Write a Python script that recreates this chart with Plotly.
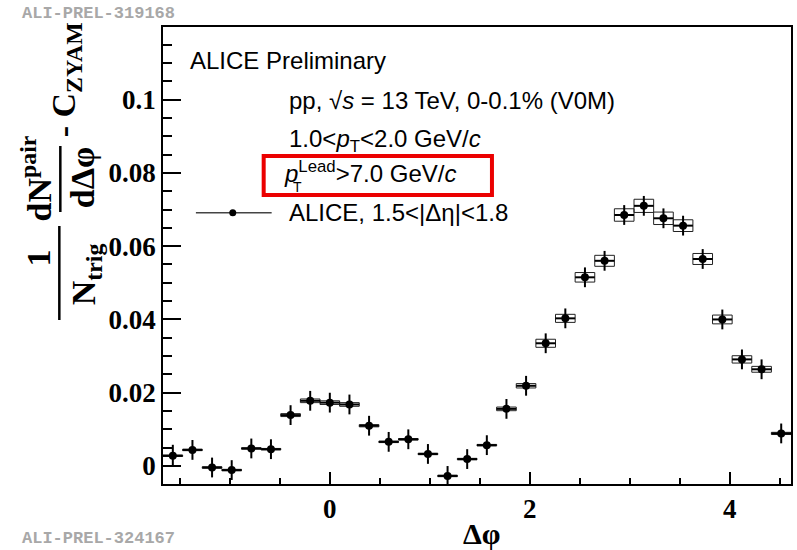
import plotly.graph_objects as go

# ---------------- data ----------------
dphi = [-1.5708, -1.3744, -1.1781, -0.9817, -0.7854, -0.5890, -0.3927, -0.1963,
        0.0, 0.1963, 0.3927, 0.5890, 0.7854, 0.9817, 1.1781, 1.3744,
        1.5708, 1.7671, 1.9635, 2.1598, 2.3562, 2.5525, 2.7489, 2.9452,
        3.1416, 3.3379, 3.5343, 3.7306, 3.9270, 4.1233, 4.3197, 4.5160]
yield_vals = [0.0028, 0.0044, -0.0004, -0.0011, 0.0048, 0.0046, 0.0139, 0.0178,
              0.0173, 0.0168, 0.0110, 0.0066, 0.0073, 0.0033, -0.0027, 0.0019,
              0.0057, 0.0156, 0.0219, 0.0335, 0.0403, 0.0515, 0.0560, 0.0685,
              0.0710, 0.0676, 0.0656, 0.0565, 0.0400, 0.0291, 0.0264, 0.0089]
stat_err = [0.0030, 0.0027, 0.0027, 0.0027, 0.0027, 0.0027, 0.0027, 0.0027,
            0.0027, 0.0027, 0.0027, 0.0027, 0.0027, 0.0027, 0.0027, 0.0027,
            0.0027, 0.0027, 0.0027, 0.0027, 0.0027, 0.0027, 0.0027, 0.0027,
            0.0027, 0.0027, 0.0027, 0.0027, 0.0027, 0.0027, 0.0027, 0.0027]
sys_err = [0.0002, 0.0002, 0.0002, 0.0002, 0.0002, 0.0002, 0.0004, 0.0005,
           0.0005, 0.0005, 0.0003, 0.0002, 0.0002, 0.0002, 0.0002, 0.0002,
           0.0002, 0.0005, 0.0006, 0.0011, 0.0011, 0.0013, 0.0015, 0.0017,
           0.0018, 0.0017, 0.0016, 0.0015, 0.0012, 0.0010, 0.0008, 0.0003]
bin_half = 0.0982
x_range = [-1.669, 4.614]
y_range = [-0.0049, 0.1198]

W, H = 797, 550
L, R, T, B = 163, 4, 27, 66
PW, PH = W - L - R, H - T - B


def px(xp):
    return (xp - L) / PW


def py(yp):
    return (H - B - yp) / PH


SERIF = "Liberation Serif"
SANS = "Liberation Sans"

fig = go.Figure()

# systematic boxes
bx, by = [], []
for x, y, s in zip(dphi, yield_vals, sys_err):
    bx += [x - bin_half, x + bin_half, x + bin_half, x - bin_half, x - bin_half, None]
    by += [y - s, y - s, y + s, y + s, y - s, None]
fig.add_trace(go.Scatter(x=bx, y=by, mode="lines", line=dict(color="#222", width=1),
                         showlegend=False, hoverinfo="skip"))

fig.add_trace(go.Scatter(
    x=dphi, y=yield_vals, mode="markers",
    marker=dict(color="black", size=8),
    error_y=dict(type="data", array=stat_err, width=0, thickness=2, color="black"),
    error_x=dict(type="constant", value=bin_half, width=0, thickness=2, color="black"),
    showlegend=False))

axis_common = dict(showline=True, linecolor="black", linewidth=1.5, mirror=True,
                   ticks="inside", tickcolor="black", tickwidth=1.5,
                   showgrid=False, zeroline=False,
                   tickfont=dict(family=SERIF, size=27, color="black", weight="bold"))

fig.update_xaxes(range=x_range, tick0=0, dtick=2, ticklen=12,
                 minor=dict(ticks="inside", dtick=0.5, tick0=0, ticklen=6,
                            tickcolor="black", tickwidth=1.5),
                 **axis_common)
fig.update_yaxes(range=y_range, tick0=0, dtick=0.02, ticklen=18,
                 minor=dict(ticks="inside", dtick=0.005, tick0=0, ticklen=9,
                            tickcolor="black", tickwidth=1.5),
                 **axis_common)

ann = []
shapes = []


def text(xp, yp, s, size=24, family=SANS, xanchor="left", color="black", angle=0, weight="normal"):
    ann.append(dict(x=px(xp), y=py(yp), xref="paper", yref="paper", text=s,
                    showarrow=False, xanchor=xanchor, yanchor="middle", textangle=angle,
                    font=dict(family=family, size=size, color=color, weight=weight)))


# info texts
text(188, 60, "ALICE Preliminary")
text(287, 100, "pp, √<i>s</i> = 13 TeV, 0-0.1% (V0M)")
text(287, 140, "1.0&lt;<i>p</i><sub>T</sub>&lt;2.0 GeV/<i>c</i>")
text(282, 172, "<i>p</i><sup>Lead</sup>&gt;7.0 GeV/<i>c</i>")
text(291, 187, "T", size=14)
text(287, 213, "ALICE, 1.5&lt;|Δη|&lt;1.8")

# red box
shapes.append(dict(type="rect", xref="paper", yref="paper", x0=px(264), x1=px(493),
                   y0=py(156), y1=py(195), line=dict(color="rgb(235,0,0)", width=4)))
# legend line + marker
shapes.append(dict(type="line", xref="paper", yref="paper", x0=px(196), x1=px(272),
                   y0=py(212.7), y1=py(212.7), line=dict(color="#444", width=1.5)))
shapes.append(dict(type="circle", xref="paper", yref="paper", x0=px(229.5), x1=px(236.5),
                   y0=py(216.2), y1=py(209.2), fillcolor="black", line=dict(color="black", width=0)))

# y-axis title pieces
text(38, 258, "1", size=34, family=SERIF, xanchor="center", angle=-90, weight="bold")
text(86, 274, "N<sub>trig</sub>", size=34, family=SERIF, xanchor="center", angle=-90, weight="bold")
shapes.append(dict(type="line", xref="paper", yref="paper", x0=px(59), x1=px(59),
                   y0=py(226), y1=py(320), line=dict(color="black", width=2.5)))
text(36, 178, "dN<sup>pair</sup>", size=34, family=SERIF, xanchor="center", angle=-90, weight="bold")
text(82, 178, "dΔφ", size=34, family=SERIF, xanchor="center", angle=-90, weight="bold")
shapes.append(dict(type="line", xref="paper", yref="paper", x0=px(60), x1=px(60),
                   y0=py(146), y1=py(212), line=dict(color="black", width=2.5)))
text(66, 80, "- C<sub>ZYAM</sub>", size=34, family=SERIF, xanchor="center", angle=-90, weight="bold")

# x-axis title
text(483, 533, "Δφ", size=30, family=SERIF, xanchor="center", weight="bold")

# ALI-PREL labels
text(20, 13, "ALI-PREL-319168", size=17, family="Liberation Mono", color="#a8a8a8", weight="bold")
text(20, 538, "ALI-PREL-324167", size=17, family="Liberation Mono", color="#a8a8a8", weight="bold")

fig.update_layout(width=W, height=H, margin=dict(l=L, r=R, t=T, b=B),
                  paper_bgcolor="white", plot_bgcolor="white",
                  annotations=ann, shapes=shapes, showlegend=False)

fig.write_html("out.html")
